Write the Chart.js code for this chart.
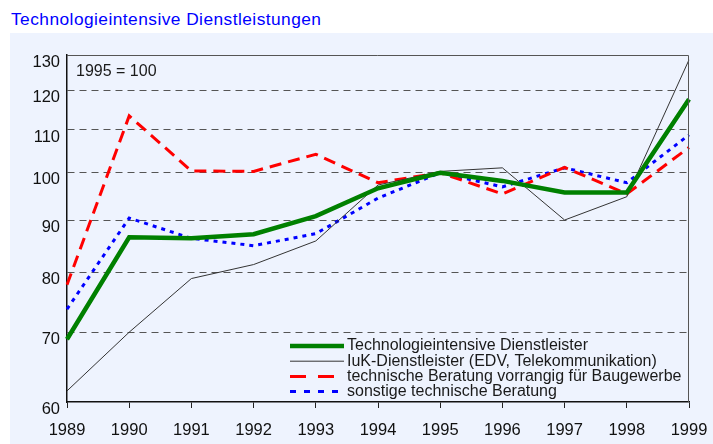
<!DOCTYPE html>
<html>
<head>
    <title>Technologieintensive Dienstleistungen</title>
    <script src="https://cdn.jsdelivr.net/npm/chart.js@4.4.1/dist/chart.umd.min.js"></script>
    <style>
        body {
            margin: 0;
            background: white;
            font-family: Arial, "Liberation Sans", sans-serif;
        }
        .title {
            position: absolute;
            left: 11px;
            top: 9px;
            font-size: 17.33px;
            letter-spacing: 0.45px;
            color: #0000ff;
            white-space: nowrap;
        }
        .panel {
            position: absolute;
            left: 10px;
            top: 33px;
            width: 703px;
            height: 411px;
            background: #eef3fe;
        }
        .wrap {
            position: absolute;
            left: 0;
            top: 0;
            width: 713px;
            height: 444px;
        }
    </style>
</head>
<body>
    <div class="title">Technologieintensive Dienstleistungen</div>
    <div class="panel"></div>
    <div class="wrap"><canvas id="chart" width="713" height="444"></canvas></div>

    <script>
        // Data (1995 = 100)
        const years = ['1989', '1990', '1991', '1992', '1993', '1994', '1995', '1996', '1997', '1998', '1999'];
        const techDienstleister = [69.0, 86.6, 86.4, 87.2, 90.8, 96.6, 100.0, 98.2, 95.7, 95.7, 117.8];
        const iukDienstleister = [61.5, 70.1, 79.0, 81.5, 85.9, 97.3, 100.3, 101.1, 90.0, 94.8, 128.6];
        const beratungBau = [77.9, 113.5, 100.4, 100.3, 104.2, 97.8, 100.0, 95.4, 101.2, 95.4, 105.8];
        const beratungSonstige = [73.8, 90.4, 86.4, 85.0, 87.3, 94.5, 100.0, 96.9, 101.1, 97.8, 108.8];
        const yTicks = [60, 70, 80, 90, 100, 110, 120, 130];

        const tickFont = { family: 'Arial, "Liberation Sans", sans-serif', size: 16.5 };

        // legend + note drawn inside the plot area
        const innerLegend = {
            id: 'innerLegend',
            afterDatasetsDraw(chart) {
                const ctx = chart.ctx;
                const area = chart.chartArea;
                ctx.save();
                // frame top + right
                ctx.strokeStyle = '#555';
                ctx.lineWidth = 1;
                ctx.beginPath();
                ctx.moveTo(area.left, area.top + 0.5);
                ctx.lineTo(area.right - 0.5, area.top + 0.5);
                ctx.lineTo(area.right - 0.5, area.bottom);
                ctx.stroke();

                ctx.font = '16px Arial, "Liberation Sans", sans-serif';
                ctx.fillStyle = '#1a1a1a';
                ctx.textBaseline = 'middle';
                ctx.fillText('1995 = 100', area.left + 9, 72);

                chart.data.datasets.forEach((ds, i) => {
                    const y = 346 + i * 15.2;
                    ctx.strokeStyle = ds.borderColor;
                    ctx.lineWidth = ds.borderWidth;
                    ctx.setLineDash(ds.legendDash || []);
                    ctx.beginPath();
                    ctx.moveTo(290, y);
                    ctx.lineTo(344, y);
                    ctx.stroke();
                    ctx.setLineDash([]);
                    ctx.fillText(ds.label, 347, y);
                });
                ctx.restore();
            }
        };

        new Chart(document.getElementById('chart'), {
            type: 'line',
            data: {
                labels: years,
                datasets: [
                    {
                        label: 'Technologieintensive Dienstleister',
                        data: techDienstleister,
                        borderColor: '#008000',
                        borderWidth: 4.5
                    },
                    {
                        label: 'IuK-Dienstleister (EDV, Telekommunikation)',
                        data: iukDienstleister,
                        borderColor: '#333333',
                        borderWidth: 1
                    },
                    {
                        label: 'technische Beratung vorrangig für Baugewerbe',
                        data: beratungBau,
                        borderColor: '#ff0000',
                        borderWidth: 3,
                        borderDash: [12, 7],
                        legendDash: [16, 12]
                    },
                    {
                        label: 'sonstige technische Beratung',
                        data: beratungSonstige,
                        borderColor: '#0000ff',
                        borderWidth: 3,
                        borderDash: [4, 5],
                        legendDash: [6, 8]
                    }
                ]
            },
            options: {
                responsive: false,
                animation: false,
                layout: { padding: { left: 0, right: 24, top: 55, bottom: 0 } },
                elements: {
                    point: { radius: 0 },
                    line: { tension: 0, borderCapStyle: 'butt' }
                },
                plugins: {
                    legend: { display: false },
                    tooltip: { enabled: false },
                    title: { display: false }
                },
                scales: {
                    x: {
                        type: 'category',
                        offset: false,
                        afterFit: (s) => { s.height = 42; s.paddingRight = 0; s.paddingLeft = 0; },
                        grid: {
                            display: true,
                            drawOnChartArea: false,
                            drawTicks: true,
                            tickLength: 6,
                            color: '#222'
                        },
                        border: { display: true, color: '#111', width: 1.5 },
                        ticks: {
                            font: tickFont,
                            color: '#111',
                            padding: 13,
                            maxRotation: 0,
                            autoSkip: false
                        }
                    },
                    y: {
                        type: 'logarithmic',
                        min: 60,
                        max: 130,
                        afterFit: (s) => { s.width = 67; s.paddingTop = 0; s.paddingBottom = 0; },
                        afterBuildTicks: (s) => { s.ticks = yTicks.map(v => ({ value: v })); },
                        grid: {
                            drawTicks: false,
                            color: (c) => (c.tick && (c.tick.value === 60 || c.tick.value === 130)) ? 'rgba(0,0,0,0)' : '#555',
                            lineWidth: 1
                        },
                        border: { display: true, color: '#111', width: 1.5, dash: [7, 5] },
                        ticks: {
                            font: tickFont,
                            color: '#111',
                            padding: 7,
                            labelOffset: 7,
                            autoSkip: false,
                            callback: (v) => String(v)
                        }
                    }
                }
            },
            plugins: [innerLegend]
        });
    </script>
</body>
</html>
